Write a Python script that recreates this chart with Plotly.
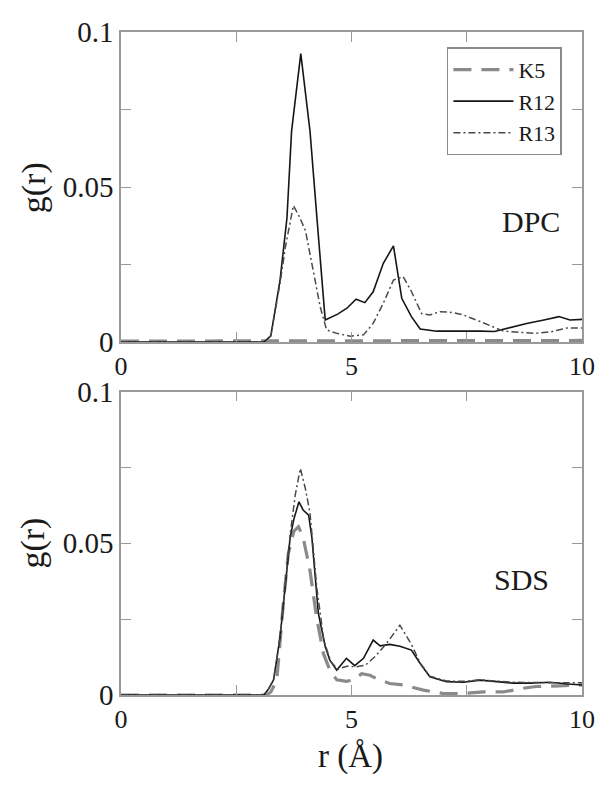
import plotly.graph_objects as go

# ---------------- data ----------------
# DPC panel
dpc_k5_r = [0, 2, 4, 6, 8, 9.5, 10]
dpc_k5_g = [0.0003, 0.0003, 0.0003, 0.0003, 0.0003, 0.0005, 0.0005]

dpc_r12_r = [0, 3.1, 3.25, 3.45, 3.6, 3.7, 3.9, 4.1, 4.25, 4.43, 4.7, 4.9, 5.1, 5.29, 5.47,
             5.69, 5.91, 6.09, 6.3, 6.49, 6.85, 7.3, 7.8, 8.1, 8.4, 8.8, 9.2, 9.5, 9.74, 10]
dpc_r12_g = [0, 0, 0.002, 0.020, 0.040, 0.068, 0.093, 0.068, 0.040, 0.0071, 0.0090, 0.0109,
             0.0138, 0.0127, 0.0162, 0.0254, 0.031, 0.0141, 0.0082, 0.0042, 0.0035, 0.0036,
             0.0035, 0.0034, 0.0045, 0.006, 0.0072, 0.0082, 0.0071, 0.0073]

dpc_r13_r = [0, 3.1, 3.25, 3.45, 3.57, 3.74, 3.85, 4.0, 4.17, 4.32, 4.46, 4.68, 4.97, 5.26,
             5.47, 5.69, 5.91, 6.12, 6.3, 6.52, 6.7, 6.92, 7.21, 7.43, 7.79, 8.3, 8.99, 9.33,
             9.67, 10]
dpc_r13_g = [0, 0, 0.002, 0.019, 0.031, 0.044, 0.041, 0.036, 0.023, 0.0114, 0.0039, 0.0028,
             0.0019, 0.0023, 0.006, 0.0125, 0.020, 0.0211, 0.0163, 0.0092, 0.0087, 0.0098,
             0.0095, 0.0087, 0.0066, 0.0035, 0.0028, 0.0033, 0.0045, 0.0045]

# SDS panel
sds_k5_r = [0, 3.15, 3.25, 3.38, 3.52, 3.63, 3.75, 3.85, 3.95, 4.1, 4.24, 4.39, 4.53, 4.68,
            4.89, 5.05, 5.22, 5.4, 5.6, 5.83, 6.12, 6.56, 6.99, 7.43, 7.86, 8.29, 8.72, 9.0,
            9.5, 10]
sds_k5_g = [0, 0, 0.001, 0.005, 0.030, 0.0467, 0.054, 0.0555, 0.052, 0.041, 0.0258, 0.0137,
            0.0082, 0.005, 0.0045, 0.005, 0.007, 0.0065, 0.005, 0.0038, 0.0033, 0.0016, 0.0005,
            0.0005, 0.001, 0.001, 0.0022, 0.0028, 0.003, 0.0033]

sds_r12_r = [0, 3.1, 3.2, 3.31, 3.45, 3.56, 3.67, 3.75, 3.86, 3.95, 4.07, 4.14, 4.28, 4.43,
             4.53, 4.68, 4.89, 5.07, 5.26, 5.47, 5.62, 5.83, 6.05, 6.3, 6.49, 6.7, 7.06, 7.43,
             7.79, 8.15, 8.51, 8.87, 9.3, 9.7, 10]
sds_r12_g = [0, 0, 0.002, 0.005, 0.019, 0.0357, 0.052, 0.058, 0.0637, 0.061, 0.0593, 0.052,
             0.027, 0.016, 0.0115, 0.0082, 0.0121, 0.0097, 0.0121, 0.0181, 0.0162, 0.0167,
             0.0161, 0.0148, 0.0104, 0.006, 0.0044, 0.0042, 0.0049, 0.0044, 0.0039, 0.0039,
             0.0042, 0.0036, 0.0033]

sds_r13_r = [0, 3.1, 3.2, 3.31, 3.45, 3.56, 3.67, 3.78, 3.89, 4.0, 4.1, 4.25, 4.4, 4.55, 4.7,
             4.9, 5.1, 5.3, 5.5, 5.76, 6.05, 6.3, 6.49, 6.7, 7.06, 7.43, 7.79, 8.15, 8.51, 8.87,
             9.3, 9.7, 10]
sds_r13_g = [0, 0, 0.002, 0.005, 0.019, 0.036, 0.053, 0.066, 0.0747, 0.068, 0.060, 0.035,
             0.018, 0.011, 0.0085, 0.0095, 0.0093, 0.0098, 0.0125, 0.017, 0.023, 0.0167, 0.0105,
             0.0062, 0.0046, 0.0045, 0.0050, 0.0046, 0.0042, 0.0041, 0.0040, 0.0040, 0.0040]

series_names = ["K5", "R12", "R13"]
panel_labels = ["DPC", "SDS"]
x_tickvals = [0, 2.5, 5, 7.5, 10]
x_ticktext = ["0", "", "5", "", "10"]
y_tickvals = [0, 0.025, 0.05, 0.075, 0.1]
y_ticktext = ["0", "", "0.05", "", "0.1"]

# ---------------- styling ----------------
SERIF = "Liberation Serif, Times New Roman, DejaVu Serif, serif"
INK = "#1a1a1a"
styles = {
    "K5": dict(color="#8a8a8a", width=3.2, dash="18px,10px"),
    "R12": dict(color="#151515", width=1.6, dash="solid"),
    "R13": dict(color="#4a4a4a", width=1.5, dash="7px,3px,2px,3px"),
}

fig = go.Figure()

panels = [
    ("x", "y", [(dpc_k5_r, dpc_k5_g), (dpc_r12_r, dpc_r12_g), (dpc_r13_r, dpc_r13_g)], True),
    ("x2", "y2", [(sds_k5_r, sds_k5_g), (sds_r12_r, sds_r12_g), (sds_r13_r, sds_r13_g)], False),
]
for xa, ya, data, show in panels:
    for name, (rr, gg) in zip(series_names, data):
        fig.add_trace(go.Scatter(
            x=rr, y=gg, mode="lines", name=name, xaxis=xa, yaxis=ya,
            line=styles[name], showlegend=show,
        ))

axis_common = dict(
    showgrid=False, zeroline=False, showline=True, linecolor="#9a9a9a",
    linewidth=1.5, mirror="ticks", ticks="inside", ticklen=10, tickwidth=1.3,
    tickcolor="#9a9a9a", tickfont=dict(family=SERIF, size=29, color=INK),
)
x_axis_extra = dict(tickfont=dict(family=SERIF, size=26, color=INK))

fig.update_layout(
    width=609, height=791,
    margin=dict(l=121, r=27, t=32, b=96),
    paper_bgcolor="white", plot_bgcolor="white",
    font=dict(family=SERIF, color=INK),
    xaxis=dict(axis_common, **x_axis_extra, range=[0, 10], tickvals=x_tickvals,
               ticktext=x_ticktext, anchor="y", domain=[0, 1]),
    yaxis=dict(axis_common, range=[0, 0.1], tickvals=y_tickvals, ticktext=y_ticktext,
               anchor="x", domain=[0.5324, 1]),
    xaxis2=dict(axis_common, **x_axis_extra, range=[0, 10], tickvals=x_tickvals,
                ticktext=x_ticktext, anchor="y2", domain=[0, 1]),
    yaxis2=dict(axis_common, range=[0, 0.1], tickvals=y_tickvals, ticktext=y_ticktext,
                anchor="x2", domain=[0, 0.4575]),
    legend=dict(
        x=0.707, y=0.977, xanchor="left", yanchor="top",
        bordercolor="#8a8a8a", borderwidth=1.5, bgcolor="white",
        font=dict(family=SERIF, size=22, color=INK),
        tracegroupgap=0, itemwidth=60,
    ),
    showlegend=True,
)

annotations = [
    dict(text="g(r)", xref="paper", yref="paper", x=-0.19, y=0.765, textangle=-90,
         showarrow=False, xanchor="center", yanchor="middle",
         font=dict(family=SERIF, size=34, color=INK)),
    dict(text="g(r)", xref="paper", yref="paper", x=-0.19, y=0.229, textangle=-90,
         showarrow=False, xanchor="center", yanchor="middle",
         font=dict(family=SERIF, size=34, color=INK)),
    dict(text="r (Å)", xref="paper", yref="paper", x=0.497, y=-0.093,
         showarrow=False, xanchor="center", yanchor="middle",
         font=dict(family=SERIF, size=33, color=INK)),
    dict(text=panel_labels[0], xref="x", yref="y", x=8.9, y=0.039, showarrow=False,
         xanchor="center", yanchor="middle", font=dict(family=SERIF, size=30, color=INK)),
    dict(text=panel_labels[1], xref="x2", yref="y2", x=8.68, y=0.038, showarrow=False,
         xanchor="center", yanchor="middle", font=dict(family=SERIF, size=30, color=INK)),
]
fig.update_layout(annotations=annotations)

fig.write_html(
    "out.html",
    config={"displayModeBar": False},
    post_script="document.body.style.margin='0px';document.body.style.overflow='hidden';",
)
